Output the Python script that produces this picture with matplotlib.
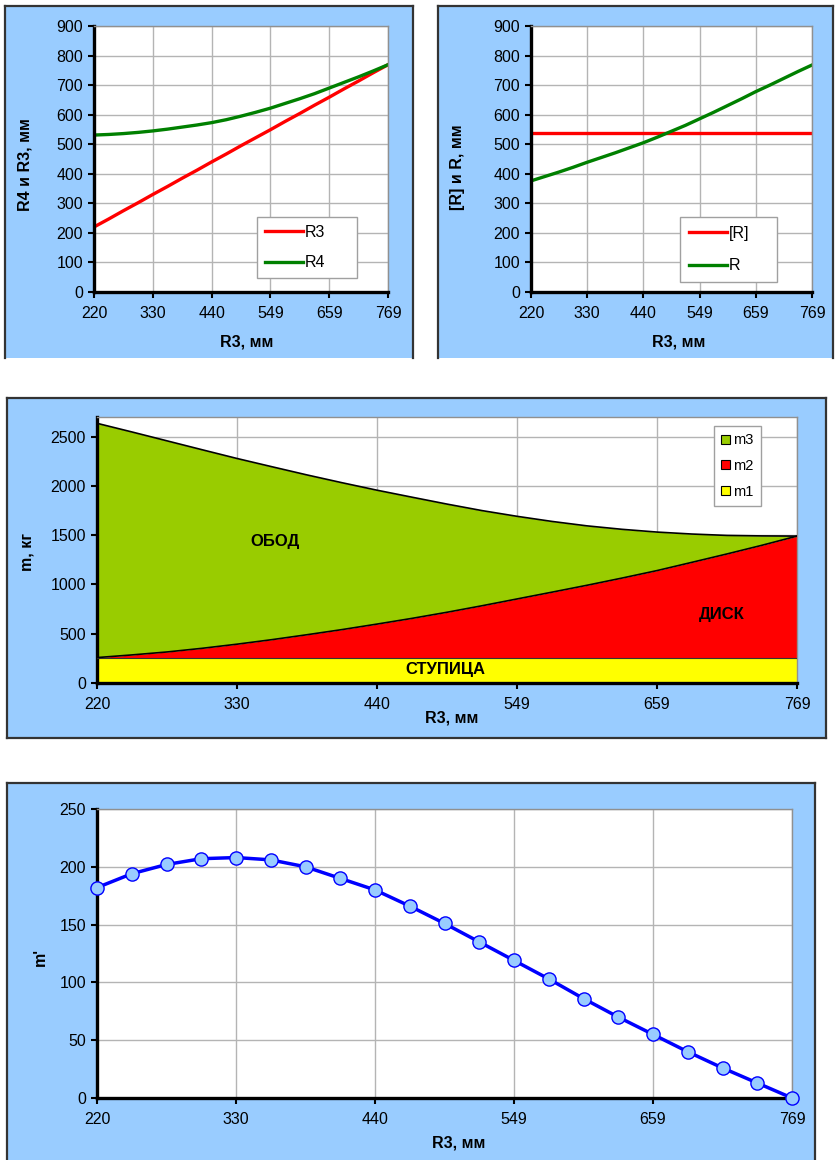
import numpy as np
import matplotlib
matplotlib.use('Agg')
import matplotlib.pyplot as plt
from matplotlib.patches import Rectangle, Patch
from matplotlib.lines import Line2D

plt.rcParams['font.family'] = ['Liberation Sans', 'DejaVu Sans']

# R3 values along the category axis (21 points)
r3 = [220, 247, 275, 302, 330, 357, 385, 412, 440, 467, 495,
      522, 549, 577, 604, 632, 659, 687, 714, 742, 769]
tick_idx = [0, 4, 8, 12, 16, 20]

# top left: R3 and R4
r4 = [531, 533, 536, 540, 545, 551, 558, 565, 573, 583, 595,
      608, 622, 638, 654, 671, 690, 709, 728, 748, 769]

# top right: [R] and R
r_allow = [537] * 21
r_calc = [376, 391, 406, 422, 439, 455, 471, 488, 505, 524, 544,
          564, 586, 608, 631, 654, 678, 700, 723, 746, 768]

# middle: masses (stacked)
m1 = [258] * 21
m2 = [0, 27, 57, 94, 136, 182, 232, 284, 340, 398, 460,
      526, 595, 664, 734, 807, 883, 967, 1052, 1140, 1233]
m3 = [2378, 2263, 2143, 2016, 1885, 1755, 1622, 1491, 1359, 1230, 1098,
      966, 839, 718, 603, 495, 391, 287, 188, 95, 0]

# bottom: m'
m_prime = [182, 194, 202, 207, 208, 206, 200, 190, 180, 166, 151,
           135, 119, 103, 86, 70, 55, 40, 26, 13, 0]

W, H = 835, 1160
BG = '#99CCFF'
fig = plt.figure(figsize=(W / 100, H / 100), dpi=100)


def fx(x):
    return x / W


def fy(y):
    return 1 - y / H


def panel(l, t, r, b, sides):
    fig.add_artist(Rectangle((fx(l), fy(b)), fx(r - l), (b - t) / H,
                             transform=fig.transFigure, facecolor=BG,
                             edgecolor='none', zorder=0))
    pts = {'l': ([l, l], [t, b]), 't': ([l, r], [t, t]),
           'r': ([r, r], [t, b]), 'b': ([l, r], [b, b])}
    for s in sides:
        xs, ys = pts[s]
        fig.add_artist(Line2D([fx(v) for v in xs], [fy(v) for v in ys],
                              transform=fig.transFigure, color='#333333', lw=1.6, zorder=1))


def make_ax(l, t, r, b, ymax, ystep):
    ax = fig.add_axes([fx(l), fy(b), fx(r - l), (b - t) / H])
    ax.set_xlim(0, 20)
    ax.set_ylim(0, ymax)
    ax.set_xticks(tick_idx)
    ax.set_xticklabels([str(r3[i]) for i in tick_idx])
    ax.set_yticks(np.arange(0, ymax + 1, ystep))
    ax.grid(True, color='#B4B4B4', lw=1)
    ax.set_axisbelow(True)
    for s in ['left', 'bottom']:
        ax.spines[s].set_color('black')
        ax.spines[s].set_linewidth(2.4)
    for s in ['top', 'right']:
        ax.spines[s].set_color('#909090')
        ax.spines[s].set_linewidth(1)
    ax.tick_params(direction='out', length=4, width=1.5, labelsize=11.5, colors='black')
    ax.tick_params(axis='x', pad=6)
    ax.tick_params(axis='y', pad=4)
    return ax


def label(x, y, s, rot=0, size=11.5):
    fig.text(fx(x), fy(y), s, ha='center', va='center', rotation=rot,
             fontsize=size, fontweight='bold')


def leg_opts(x0, y0, w, bp, ls):
    return dict(loc='upper left', bbox_to_anchor=(fx(x0), fy(y0) - 0.05, fx(w), 0.05),
                bbox_transform=fig.transFigure, mode='expand', borderaxespad=0,
                fancybox=False, edgecolor='#A0A0A0', framealpha=1,
                fontsize=11.5, handlelength=2.4, handletextpad=0.1,
                borderpad=bp, labelspacing=ls)


# panels
panel(5, 6, 413, 358, 'ltr')
panel(438, 6, 833, 358, 'ltr')
panel(7, 398, 826, 738, 'ltrb')
panel(7, 783, 815, 1165, 'ltr')

# top left
ax1 = make_ax(94, 26, 388, 292, 900, 100)
x = np.arange(len(r3))
ax1.plot(x, r3, color='#FF0000', lw=2.4, label='R3')
ax1.plot(x, r4, color='#008000', lw=2.4, label='R4')
leg = ax1.legend(**leg_opts(257, 217, 100, 0.5, 0.95))
leg.get_frame().set_linewidth(1)
label(25, 165, 'R4 и R3, мм', rot=90)
label(247, 342, 'R3, мм')

# top right
ax2 = make_ax(531, 26, 812, 292, 900, 100)
ax2.plot(x, r_allow, color='#FF0000', lw=2.4, label='[R]')
ax2.plot(x, r_calc, color='#008000', lw=2.4, label='R')
leg = ax2.legend(**leg_opts(680, 217, 97, 0.55, 1.1))
leg.get_frame().set_linewidth(1)
label(458, 167, '[R] и R, мм', rot=90)
label(679, 342, 'R3, мм')

# middle: stacked areas
ax3 = make_ax(97, 417, 797, 683, 2700, 500)
s1 = np.array(m1)
s2 = s1 + np.array(m2)
s3 = s2 + np.array(m3)
ax3.fill_between(x, 0, s1, color='#FFFF00', lw=0, zorder=2)
ax3.fill_between(x, s1, s2, color='#FF0000', lw=0, zorder=2)
ax3.fill_between(x, s2, s3, color='#99CC00', lw=0, zorder=2)
ax3.plot(x, s1, color='#333333', lw=0.8, zorder=3)
ax3.plot(x, s2, color='black', lw=1.2, zorder=3)
ax3.plot(x, s3, color='black', lw=1.2, zorder=3)
ax3.text(5.1, 1440, 'ОБОД', ha='center', va='center', fontsize=12, fontweight='bold', zorder=4)
ax3.text(17.85, 700, 'ДИСК', ha='center', va='center', fontsize=12, fontweight='bold', zorder=4)
ax3.text(9.95, 135, 'СТУПИЦА', ha='center', va='center', fontsize=12, fontweight='bold', zorder=4)
handles = [Patch(facecolor='#99CC00', edgecolor='black', lw=0.8),
           Patch(facecolor='#FF0000', edgecolor='black', lw=0.8),
           Patch(facecolor='#FFFF00', edgecolor='black', lw=0.8)]
leg = ax3.legend(handles, ['m3', 'm2', 'm1'], loc='upper left',
                 bbox_to_anchor=(fx(714), fy(426)), bbox_transform=fig.transFigure,
                 borderaxespad=0, fancybox=False, edgecolor='#A0A0A0', framealpha=1,
                 fontsize=10.5, handlelength=0.6, handleheight=0.6, handletextpad=0.2,
                 borderpad=0.5, labelspacing=0.8)
leg.get_frame().set_linewidth(1)
leg.set_zorder(5)
label(27, 552, 'm, кг', rot=90)
label(452, 718, 'R3, мм')

# bottom: m'
ax4 = make_ax(97, 809, 792, 1098, 250, 50)
ax4.plot(x, m_prime, color='#0000FF', lw=2.5, marker='o', markersize=9.5,
         markerfacecolor='#99CCFF', markeredgecolor='#0000FF', markeredgewidth=1,
         clip_on=False, zorder=3)
label(40, 957, "m'", rot=90)
label(459, 1143, 'R3, мм')

fig.savefig('out.png', dpi=100)
